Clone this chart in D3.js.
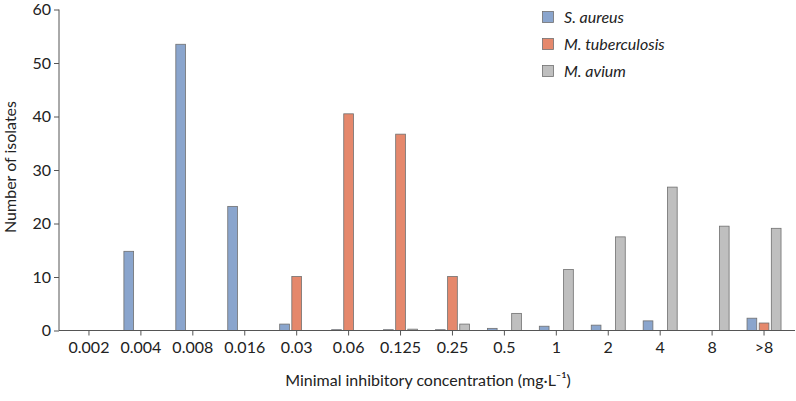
<!DOCTYPE html>
<html><head><meta charset="utf-8">
<script src="https://cdn.jsdelivr.net/npm/d3@7"></script>
<style>
body{margin:0;background:#fff;}
svg text{font-family:"Source Sans Pro",Lato,"Open Sans",sans-serif;fill:#222;}
</style></head>
<body><svg id="c" width="796" height="401"></svg>
<script>
const categories = ["0.002","0.004","0.008","0.016","0.03","0.06","0.125","0.25","0.5","1","2","4","8",">8"];
const seriesNames = ["S. aureus","M. tuberculosis","M. avium"];
const sAureus = [0,14.8,53.5,23.2,1.2,0.15,0.15,0.15,0.4,0.8,1.0,1.8,0,2.3];
const mTuberculosis = [0,0,0,0,10.1,40.5,36.7,10.1,0,0,0,0,0,1.4];
const mAvium = [0,0,0,0,0,0,0.25,1.2,3.2,11.4,17.5,26.8,19.5,19.1];
const yTicks = [0,10,20,30,40,50,60];
const colors = ["#8aa5cd","#e5886c","#bfbfbf"];

const svg = d3.select("#c");
const x0 = 59, x1 = 795, yTop = 9.5, yBot = 330.5;
const x = d3.scaleBand().domain(categories).range([63, 790]);
const xs = d3.scaleBand().domain(seriesNames).range([-17, 17]).paddingInner(0.2);
const y = d3.scaleLinear().domain([0,60]).range([yBot, yTop]);

const data = [sAureus, mTuberculosis, mAvium];
seriesNames.forEach((s, si) => {
  svg.append("g").selectAll("rect").data(categories.map((c,i)=>({c, v:data[si][i]})).filter(d=>d.v>0))
    .join("rect")
    .attr("x", d => x(d.c) + x.bandwidth()/2 + xs(s))
    .attr("width", xs.bandwidth())
    .attr("y", d => y(d.v))
    .attr("height", d => y(0) - y(d.v))
    .attr("fill", colors[si])
    .attr("stroke", "#707070")
    .attr("stroke-width", 0.8);
});

// y axis
const ya = svg.append("g").attr("transform", `translate(${x0},0)`)
  .call(d3.axisLeft(y).tickValues(yTicks).tickSize(5).tickPadding(3).tickFormat(d3.format("d")));
ya.select(".domain").attr("stroke","#555").attr("d", `M0,${yTop}V${yBot}`);
ya.selectAll(".tick line").attr("stroke","#555");
ya.selectAll("text").attr("font-size", 16).attr("fill","#222");

// x axis
const xa = svg.append("g").attr("transform", `translate(0,${yBot})`)
  .call(d3.axisBottom(x).tickSize(5).tickPadding(6));
xa.select(".domain").attr("stroke","#555").attr("d", `M${x0},0H${x1}`);
xa.selectAll(".tick line").attr("stroke","#555");
xa.selectAll("text").attr("font-size", 16).attr("fill","#222");

svg.append("text").attr("x", 428).attr("y", 386).attr("text-anchor","middle")
  .attr("font-size", 16).text("Minimal inhibitory concentration (mg·L⁻¹)");
svg.append("text").attr("transform","translate(15.5,167) rotate(-90)").attr("text-anchor","middle")
  .attr("font-size", 16).text("Number of isolates");

// legend
const lg = svg.append("g");
seriesNames.forEach((s,i)=>{
  lg.append("rect").attr("x",542.5).attr("y",11.5+i*27).attr("width",11).attr("height",11)
    .attr("fill",colors[i]).attr("stroke","#707070").attr("stroke-width",0.8);
  lg.append("text").attr("x",564).attr("y",22.5+i*27).attr("font-size",16).attr("font-style","italic").text(s);
});
</script></body></html>
